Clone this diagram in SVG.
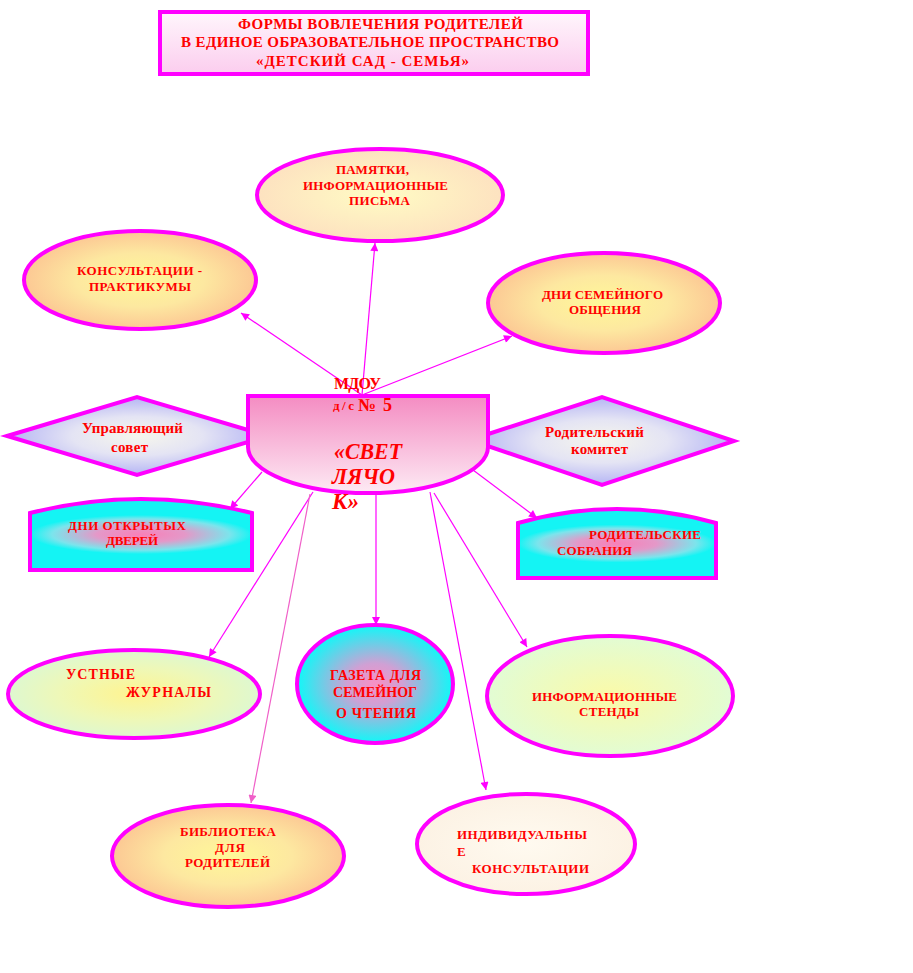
<svg xmlns="http://www.w3.org/2000/svg" width="913" height="973" viewBox="0 0 913 973">
<defs>
<style>
.t{font-family:"Liberation Serif","Times New Roman",serif;font-weight:bold;fill:#ff0000;}
.b{stroke:#ff00ff;stroke-width:4;}
.c{stroke:#ff00ff;stroke-width:1.2;fill:none;marker-end:url(#ah);}
.cp{stroke:#f060c8;stroke-width:1.2;fill:none;marker-end:url(#ahp);}
</style>
<marker id="ah" viewBox="0 0 10 10" refX="10" refY="5" markerWidth="10" markerHeight="8" markerUnits="userSpaceOnUse" orient="auto"><path d="M0,0 L10,5 L0,10 z" fill="#ff00ff"/></marker>
<marker id="ahp" viewBox="0 0 10 10" refX="10" refY="5" markerWidth="10" markerHeight="8" markerUnits="userSpaceOnUse" orient="auto"><path d="M0,0 L10,5 L0,10 z" fill="#f060c8"/></marker>
<linearGradient id="gTitle" x1="0" y1="0" x2="0" y2="1"><stop offset="0" stop-color="#fff6fc"/><stop offset="1" stop-color="#fbcdee"/></linearGradient>
<linearGradient id="gCenter" x1="0" y1="0" x2="0" y2="1"><stop offset="0" stop-color="#f48cc2"/><stop offset="1" stop-color="#fdeaf4"/></linearGradient>
<radialGradient id="gPeach" cx="0.5" cy="0.5" r="0.5"><stop offset="0" stop-color="#fff898"/><stop offset="0.55" stop-color="#fde8a0"/><stop offset="1" stop-color="#fcc894"/></radialGradient>
<radialGradient id="gPeachL" cx="0.5" cy="0.5" r="0.5"><stop offset="0" stop-color="#fffcc4"/><stop offset="1" stop-color="#fde2c0"/></radialGradient>
<radialGradient id="gGreen" cx="0.5" cy="0.5" r="0.5"><stop offset="0" stop-color="#fff490"/><stop offset="0.6" stop-color="#eef8b8"/><stop offset="1" stop-color="#def8d0"/></radialGradient>
<radialGradient id="gGreen2" cx="0.5" cy="0.5" r="0.5"><stop offset="0" stop-color="#fbfaa8"/><stop offset="1" stop-color="#e2fcd4"/></radialGradient>
<radialGradient id="gCyan" cx="0.5" cy="0.5" r="0.5"><stop offset="0" stop-color="#f890c4"/><stop offset="0.35" stop-color="#d0a0d4"/><stop offset="1" stop-color="#10f8f8"/></radialGradient>
<radialGradient id="gCyanR" cx="0.5" cy="0.5" r="0.5" gradientTransform="translate(0.5 0.5) scale(1 0.55) translate(-0.5 -0.5)"><stop offset="0" stop-color="#f880b8"/><stop offset="0.4" stop-color="#e498c8"/><stop offset="0.8" stop-color="#7ce4ec"/><stop offset="1" stop-color="#14f4f4"/></radialGradient>
<radialGradient id="gLav" cx="0.5" cy="0.5" r="0.5"><stop offset="0" stop-color="#f6f6ec"/><stop offset="0.5" stop-color="#e4e4f4"/><stop offset="1" stop-color="#b4b4f4"/></radialGradient>
<radialGradient id="gCream" cx="0.5" cy="0.5" r="0.5"><stop offset="0" stop-color="#fffaf0"/><stop offset="1" stop-color="#fcf2e4"/></radialGradient>
</defs>
<rect width="913" height="973" fill="#ffffff"/>

<g id="title">
<rect x="160" y="12" width="428" height="62" fill="url(#gTitle)" class="b" stroke-width="5"/>
<text class="t" font-size="15" x="238" y="29" textLength="285" lengthAdjust="spacing">ФОРМЫ ВОВЛЕЧЕНИЯ  РОДИТЕЛЕЙ</text>
<text class="t" font-size="15" x="181" y="47" textLength="378" lengthAdjust="spacing">В ЕДИНОЕ  ОБРАЗОВАТЕЛЬНОЕ ПРОСТРАНСТВО</text>
<text class="t" font-size="15" x="256" y="66" textLength="213" lengthAdjust="spacing">«ДЕТСКИЙ  САД  -  СЕМЬЯ»</text>
</g>

<g id="n-upravl">
<polygon points="7,436 137,397 268,436 137,475" fill="url(#gLav)" class="b" stroke-width="3"/>
<text class="t" font-size="15" x="82" y="433" textLength="101" lengthAdjust="spacing">Управляющий</text>
<text class="t" font-size="15" x="111" y="452" textLength="37" lengthAdjust="spacing">совет</text>
</g>

<g id="n-komitet">
<polygon points="470,440 602,397 734,441 602,485" fill="url(#gLav)" class="b" stroke-width="3"/>
<text class="t" font-size="15" x="545" y="437" textLength="99" lengthAdjust="spacing">Родительский</text>
<text class="t" font-size="15" x="571" y="454" textLength="57" lengthAdjust="spacing">комитет</text>
</g>

<g id="n-pamyatki">
<ellipse cx="380" cy="195" rx="123" ry="46" fill="url(#gPeachL)" class="b"/>
<text class="t" font-size="13" x="336" y="174" textLength="73" lengthAdjust="spacing">ПАМЯТКИ,</text>
<text class="t" font-size="13" x="303" y="190" textLength="145" lengthAdjust="spacing">ИНФОРМАЦИОННЫЕ</text>
<text class="t" font-size="13" x="349" y="205" textLength="61" lengthAdjust="spacing">ПИСЬМА</text>
</g>

<g id="n-konsult">
<ellipse cx="140" cy="280" rx="116" ry="49" fill="url(#gPeach)" class="b"/>
<text class="t" font-size="13" x="77" y="275" textLength="125" lengthAdjust="spacing">КОНСУЛЬТАЦИИ -</text>
<text class="t" font-size="13" x="89" y="291" textLength="102" lengthAdjust="spacing">ПРАКТИКУМЫ</text>
</g>

<g id="n-dni-sem">
<ellipse cx="604" cy="303" rx="116" ry="50" fill="url(#gPeach)" class="b"/>
<text class="t" font-size="13" x="542" y="299" textLength="121" lengthAdjust="spacing">ДНИ СЕМЕЙНОГО</text>
<text class="t" font-size="13" x="569" y="314" textLength="72" lengthAdjust="spacing">ОБЩЕНИЯ</text>
</g>

<g id="n-dni-otkr">
<path d="M30,513 Q141,485 252,513 L252,570 L30,570 Z" fill="url(#gCyanR)" class="b" stroke-width="3.5"/>
<text class="t" font-size="13" x="68" y="530" textLength="118" lengthAdjust="spacing">ДНИ  ОТКРЫТЫХ</text>
<text class="t" font-size="13" x="106" y="545" textLength="52" lengthAdjust="spacing">ДВЕРЕЙ</text>
</g>

<g id="n-sobr">
<path d="M518,523 Q617,495 716,523 L716,578 L518,578 Z" fill="url(#gCyanR)" class="b" stroke-width="3.5"/>
<text class="t" font-size="13" x="589" y="539" textLength="112" lengthAdjust="spacing">РОДИТЕЛЬСКИЕ</text>
<text class="t" font-size="13" x="557" y="555" textLength="75" lengthAdjust="spacing">СОБРАНИЯ</text>
</g>

<g id="n-ustnye">
<ellipse cx="134" cy="694" rx="126" ry="44" fill="url(#gGreen)" class="b"/>
<text class="t" font-size="14" x="66" y="679" textLength="69" lengthAdjust="spacing">УСТНЫЕ</text>
<text class="t" font-size="14" x="126" y="697" textLength="85" lengthAdjust="spacing">ЖУРНАЛЫ</text>
</g>

<g id="n-gazeta">
<ellipse cx="375" cy="684" rx="78" ry="59" fill="url(#gCyan)" class="b"/>
<text class="t" font-size="14" x="330" y="680" textLength="91" lengthAdjust="spacing">ГАЗЕТА ДЛЯ</text>
<text class="t" font-size="14" x="333" y="697" textLength="84" lengthAdjust="spacing">СЕМЕЙНОГ</text>
<text class="t" font-size="14" x="336" y="718" textLength="80" lengthAdjust="spacing">О ЧТЕНИЯ</text>
</g>

<g id="n-stendy">
<ellipse cx="610" cy="696" rx="123" ry="60" fill="url(#gGreen2)" class="b"/>
<text class="t" font-size="13" x="532" y="701" textLength="145" lengthAdjust="spacing">ИНФОРМАЦИОННЫЕ</text>
<text class="t" font-size="13" x="579" y="716" textLength="60" lengthAdjust="spacing">СТЕНДЫ</text>
</g>

<g id="n-biblio">
<ellipse cx="228" cy="856" rx="116" ry="51" fill="url(#gPeach)" class="b"/>
<text class="t" font-size="13" x="180" y="836" textLength="96" lengthAdjust="spacing">БИБЛИОТЕКА</text>
<text class="t" font-size="13" x="215" y="852" textLength="30" lengthAdjust="spacing">ДЛЯ</text>
<text class="t" font-size="13" x="185" y="867" textLength="85" lengthAdjust="spacing">РОДИТЕЛЕЙ</text>
</g>

<g id="n-individ">
<ellipse cx="526" cy="844" rx="109" ry="50" fill="url(#gCream)" class="b"/>
<text class="t" font-size="13" x="457" y="839" textLength="130" lengthAdjust="spacing">ИНДИВИДУАЛЬНЫ</text>
<text class="t" font-size="13" x="457" y="856">Е</text>
<text class="t" font-size="13" x="472" y="873" textLength="117" lengthAdjust="spacing">КОНСУЛЬТАЦИИ</text>
</g>

<g id="connectors">
<line class="c" x1="362" y1="395" x2="375" y2="243"/>
<line class="c" x1="362" y1="395" x2="241" y2="313"/>
<line class="c" x1="362" y1="395" x2="512" y2="336"/>
<line class="c" x1="262" y1="472" x2="230" y2="509"/>
<line class="c" x1="473" y1="470" x2="537" y2="518"/>
<line class="c" x1="313" y1="492" x2="209" y2="657"/>
<line class="cp" x1="310" y1="494" x2="251" y2="803"/>
<line class="c" x1="376" y1="493" x2="376" y2="625"/>
<line class="c" x1="430" y1="492" x2="486" y2="790"/>
<line class="c" x1="434" y1="493" x2="527" y2="647"/>
</g>

<g id="n-center">
<path d="M248,396 H488 V447 A120 46 0 0 1 248 447 Z" fill="url(#gCenter)" class="b"/>
<text class="t" font-size="16" x="334" y="389" textLength="47" lengthAdjust="spacing">МДОУ</text>
<text class="t" font-size="13" x="333" y="410" textLength="21" lengthAdjust="spacing">д/с</text>
<text class="t" font-size="18" x="358" y="411" textLength="34" lengthAdjust="spacing">№ 5</text>
<text class="t" font-size="23" font-style="italic" x="334" y="459" textLength="68" lengthAdjust="spacingAndGlyphs">«СВЕТ</text>
<text class="t" font-size="23" font-style="italic" x="332" y="484" textLength="63" lengthAdjust="spacingAndGlyphs">ЛЯЧО</text>
<text class="t" font-size="23" font-style="italic" x="332" y="509" textLength="27" lengthAdjust="spacingAndGlyphs">К»</text>
</g>
</svg>
